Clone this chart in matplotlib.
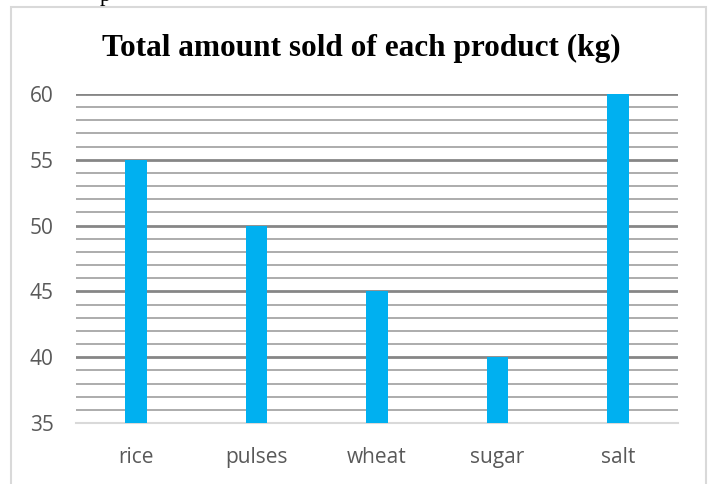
import matplotlib
matplotlib.use("Agg")
import matplotlib.pyplot as plt
from matplotlib.patches import Rectangle
import numpy as np

categories = ["rice", "pulses", "wheat", "sugar", "salt"]
values = [55, 50, 45, 40, 60]
yticks = [35, 40, 45, 50, 55, 60]
title = "Total amount sold of each product (kg)"

W, H = 709, 484
fig = plt.figure(figsize=(W / 100, H / 100), dpi=100)

# chart frame
fig.patches.append(Rectangle((11 / W, -0.1), (706 - 11) / W, 1.1 - 7 / H,
                             transform=fig.transFigure, fill=False,
                             edgecolor="#d9d9d9", linewidth=1.5))

# cut-off text fragment above the chart
fig.text(100 / W, 1 - 1 / H, "p", ha="left", va="baseline",
         fontsize=16, family="Liberation Serif", color="black")

ax = fig.add_axes([76 / W, 1 - 423 / H, (678 - 76) / W, (423 - 94) / H])
x = np.arange(len(categories))
ax.set_xlim(-0.5, len(categories) - 0.5)
ax.set_ylim(35, 60)

for v in np.arange(36, 60):
    if v % 5:
        ax.axhline(v, color="#a6a6a6", linewidth=1.3, zorder=1)
for v in yticks[1:]:
    ax.axhline(v, color="#868686", linewidth=2.0, zorder=1)
ax.axhline(35, color="#d9d9d9", linewidth=1.5, zorder=1, clip_on=False)

ax.bar(x, np.array(values) - 35, bottom=35, width=0.18, color="#00b0f0", zorder=2)

for s in ax.spines.values():
    s.set_visible(False)
ax.set_xticks(x)
ax.set_xticklabels(categories, fontsize=15, color="#595959", family="Open Sans")
ax.set_yticks(yticks)
ax.set_yticklabels([str(t) for t in yticks], fontsize=15, color="#595959", family="Open Sans")
ax.tick_params(length=0)
ax.tick_params(axis="x", pad=17)
ax.tick_params(axis="y", pad=16)

fig.text(361 / W, 1 - 48 / H, title, ha="center", va="center",
         fontsize=22.5, fontweight="bold", family="Liberation Serif")

fig.savefig("out.png", dpi=100)
